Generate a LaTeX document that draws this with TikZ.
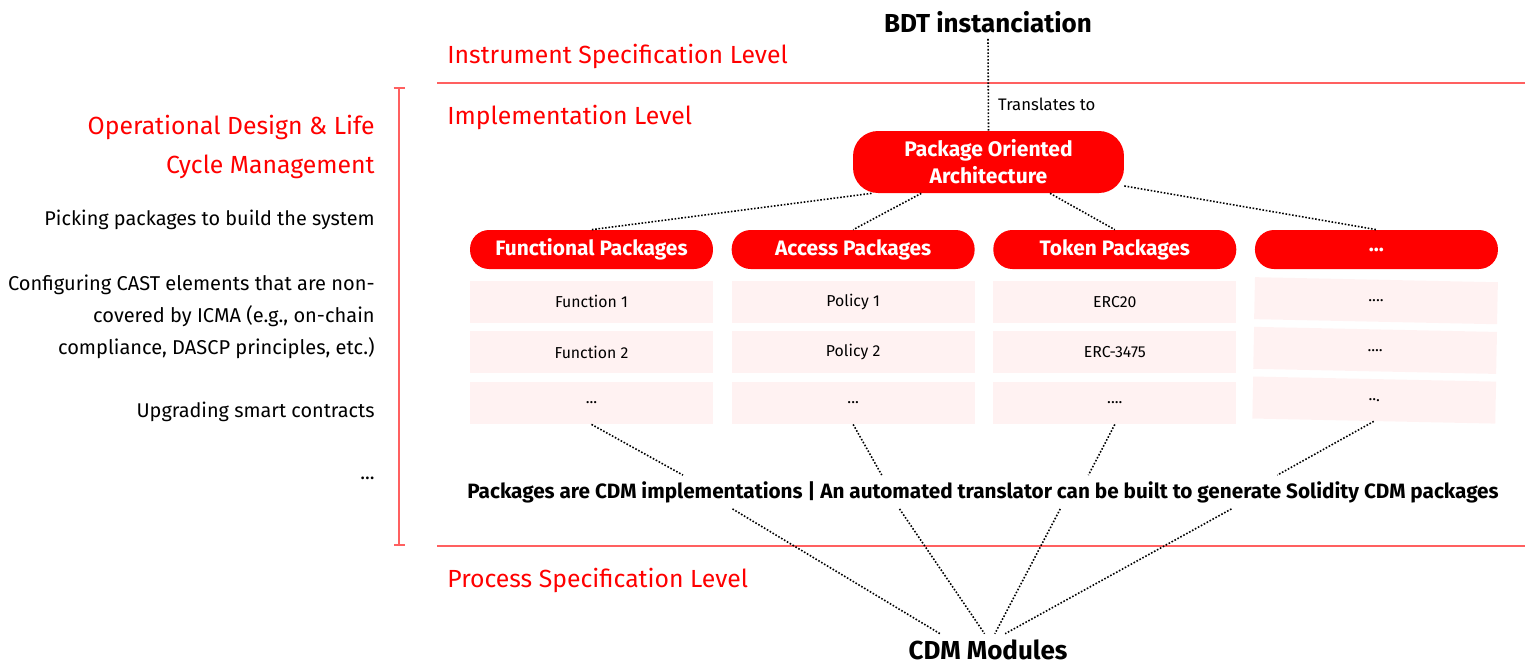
\documentclass[tikz,border=0pt]{standalone}
\usepackage{fontspec}
\setmainfont{Fira Sans}
\usetikzlibrary{positioning, calc, arrows.meta}
\definecolor{pkgred}{RGB}{255,0,0}
\definecolor{lvlred}{RGB}{255,96,96}
\definecolor{cellpink}{RGB}{255,242,242}
\newcommand{\fsz}[2]{\fontsize{#1}{#2}\selectfont}

\begin{document}
\begin{tikzpicture}[x=0.02cm, y=-0.02cm,
  pill/.style={rectangle, rounded corners=0.38cm, fill=pkgred, text=white,
    font=\bfseries\fsz{11.9}{13}, minimum width=4.86cm, minimum height=0.78cm, inner sep=0pt},
  cell/.style={rectangle, fill=cellpink, minimum width=4.86cm, minimum height=0.84cm,
    font=\fsz{9}{10}, inner sep=0pt},
  level/.style={anchor=west, text=pkgred, font=\fsz{14.1}{15}, inner sep=0pt},
  note/.style={anchor=east, align=right, inner sep=0pt},
  link/.style={densely dotted, line width=0.9pt},
  lvlline/.style={draw=lvlred, line width=1.3pt}]
  \useasboundingbox (0,0) rectangle (1525,667);

  % levels
  \draw[lvlline] (437,83) -- (1525,83);
  \draw[lvlline] (437,546) -- (1525,546);
  \node[level] (instr) at (447,56)  {Instrument Specification Level};
  \node[level] (impl)  at (447,117) {Implementation Level};
  \node[level] (proc)  at (447,580) {Process Specification Level};

  % left side
  \coordinate (brtop) at (399,87);
  \coordinate (brbot) at (399,546);
  \draw[lvlred, line width=1.3pt, {Bar[width=0.22cm]}-{Bar[width=0.22cm]}] (brtop) -- (brbot);
  \node[note, text=pkgred, font=\fsz{14.1}{22.7}] (odlc) at (375,147) {Operational Design \& Life\\Cycle Management};
  \node[note, font=\fsz{11.3}{18}] (pick) at (375,220) {Picking packages to build the system};
  \node[note, font=\fsz{11.4}{18.1}] (cast) at (375,317) {Configuring CAST elements that are non-\\covered by ICMA (e.g., on-chain\\compliance, DASCP principles, etc.)};
  \node[note, font=\fsz{11.3}{18}] (upg) at (375,412) {Upgrading smart contracts};
  \node[note, font=\fsz{11.3}{18}] (more) at (375,478) {...};

  % top
  \node[font=\bfseries\fsz{14.8}{16}] (bdt) at (988,22) {BDT instanciation};
  \node[rectangle, rounded corners=0.5cm, fill=pkgred, text=white, font=\bfseries\fsz{12}{15.3},
    align=center, minimum width=5.42cm, minimum height=1.24cm, inner sep=0pt] (poa) at (988.5,162) {Package Oriented\\Architecture};
  \node[anchor=west, font=\fsz{9.5}{10}] (trans) at (992,104) {Translates to};
  \draw[link] (bdt.south) -- (poa.north);

  % packages
  \node[pill] (fun) at (591.5,249.5) {Functional Packages};
  \node[pill, right=0.36cm of fun] (acc) {Access Packages};
  \node[pill, right=0.36cm of acc] (tok) {Token Packages};
  \node[pill, right=0.36cm of tok] (etc) {...};

  \node[cell, below=0.22cm of fun] (fun1) {Function 1};
  \node[cell, below=0.16cm of fun1] (fun2) {Function 2};
  \node[cell, below=0.16cm of fun2] (fun3) {...};
  \node[cell, below=0.22cm of acc] (acc1) {Policy 1};
  \node[cell, below=0.16cm of acc1] (acc2) {Policy 2};
  \node[cell, below=0.16cm of acc2] (acc3) {...};
  \node[cell, below=0.22cm of tok] (tok1) {ERC20};
  \node[cell, below=0.16cm of tok1] (tok2) {ERC-3475};
  \node[cell, below=0.16cm of tok2] (tok3) {....};
  \node[cell, rotate=-1.2, below=0.2cm of etc] (etc1) {....};
  \node[cell, rotate=-1.2, below=0.14cm of etc1] (etc2) {....};
  \node[cell, rotate=-1.2, below=0.14cm of etc2] (etc3) {...};

  \draw[link] (poa.-165) -- (fun.north);
  \draw[link] (poa.-155) -- (acc.north);
  \draw[link] (poa.-27) -- (tok.north);
  \draw[link] (poa.-10) -- (etc.north);

  % CDM
  \node[font=\bfseries\fsz{11.8}{13}] (cdmtxt) at (983,492) {Packages are CDM implementations | An automated translator can be built to generate Solidity CDM packages};
  \node[font=\bfseries\fsz{14.8}{16}] (cdm) at (988,650) {CDM Modules};

  \draw[link] (fun3.south) -- ($(cdmtxt.north west)!0.2125!(cdmtxt.north east)$);
  \draw[link] (acc3.south) -- ($(cdmtxt.north west)!0.403!(cdmtxt.north east)$);
  \draw[link] (tok3.south) -- ($(cdmtxt.north west)!0.601!(cdmtxt.north east)$);
  \draw[link] (etc3.south) -- ($(cdmtxt.north west)!0.782!(cdmtxt.north east)$);

  \draw[link] ($(cdmtxt.south west)!0.26!(cdmtxt.south east)$) -- ($(cdm.north west)!0.22!(cdm.north east)$);
  \draw[link] ($(cdmtxt.south west)!0.42!(cdmtxt.south east)$) -- ($(cdm.north west)!0.48!(cdm.north east)$);
  \draw[link] ($(cdmtxt.south west)!0.574!(cdmtxt.south east)$) -- ($(cdm.north west)!0.54!(cdm.north east)$);
  \draw[link] ($(cdmtxt.south west)!0.738!(cdmtxt.south east)$) -- ($(cdm.north west)!0.6!(cdm.north east)$);
\end{tikzpicture}
\end{document}
